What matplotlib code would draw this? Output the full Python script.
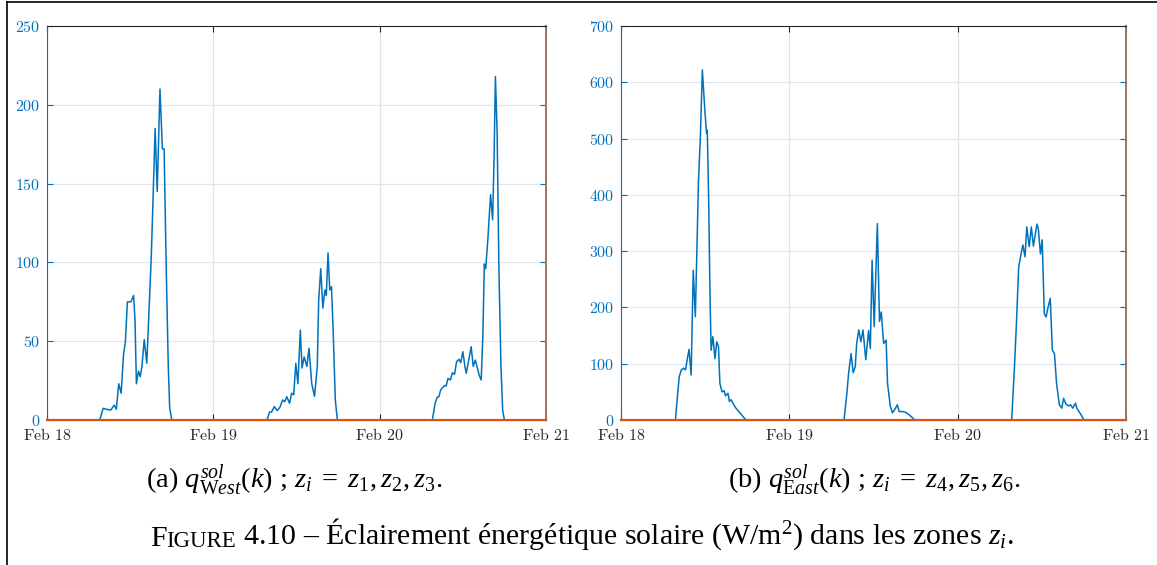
import matplotlib.pyplot as plt
from matplotlib.lines import Line2D

plt.rcParams['mathtext.fontset'] = 'custom'
plt.rcParams['mathtext.rm'] = 'Liberation Serif'
plt.rcParams['mathtext.it'] = 'Liberation Serif:italic'
plt.rcParams['font.family'] = 'Liberation Serif'

# heures depuis Feb 18 00:00 et valeurs (W/m2)
west_h = [0, 7.6, 8.1, 8.6, 9.2, 9.7, 10.0, 10.35, 10.7, 11.05, 11.3, 11.6, 12.1, 12.5, 12.7,
          12.9, 13.2, 13.45, 13.7, 14.03, 14.4, 14.8, 15.05, 15.3, 15.6, 15.9, 16.3, 16.65,
          16.9, 17.2, 17.5, 17.7, 18.0,
          31.75, 32.1, 32.4, 32.8, 33.2, 33.6, 34.0, 34.3, 34.6, 35.0, 35.3, 35.6, 35.9, 36.2,
          36.55, 36.8, 37.1, 37.5, 37.8, 38.2, 38.6, 39.0, 39.2, 39.5, 39.8, 40.1, 40.3, 40.55,
          40.8, 41.05, 41.3, 41.6, 41.9,
          55.6, 56.0, 56.3, 56.55, 56.8, 57.1, 57.4, 57.6, 57.85, 58.2, 58.5, 58.8, 59.1, 59.45,
          59.7, 60.0, 60.3, 60.5, 60.85, 61.2, 61.5, 61.8, 62.1, 62.35, 62.65, 62.9, 63.1, 63.3,
          63.6, 64.0, 64.3, 64.5, 64.7, 64.95, 65.2, 65.5, 65.75, 66.0, 72]
west_q = [0, 0, 7.4, 6.8, 6.3, 9.5, 6.8, 23, 17, 42, 49, 75, 75, 79, 63,
          23, 31, 27.5, 34, 51, 36, 78, 104, 140, 185, 145, 210, 172,
          172, 97, 34, 8, 0,
          0, 5, 5, 8.5, 6, 8, 12.7, 11.6, 14.8, 10.6, 17, 16, 36, 23,
          57, 33, 40, 34, 45.5, 23, 15, 34, 76, 96, 71, 82.5, 79, 106,
          82.5, 84.6, 55, 12.7, 0,
          0, 10.6, 14.4, 14.8, 19, 20.7, 22, 21.6, 26.4, 25.4, 30, 29, 37, 38.5,
          36.4, 43.4, 34, 29.6, 38, 46.5, 34, 38, 33, 28.5, 25.4, 55, 99, 96,
          114, 143, 127, 165, 218, 182, 97, 34, 6, 0, 0]

east_h = [0, 7.76, 8.0, 8.3, 8.6, 8.9, 9.2, 9.5, 9.7, 10.0, 10.3, 10.6, 11.05, 11.3, 11.6,
          11.95, 12.2, 12.3, 12.5, 12.7, 12.85, 13.1, 13.4, 13.65, 13.9, 14.1, 14.4, 14.7,
          14.9, 15.25, 15.45, 15.7, 16.1, 16.4, 16.8, 17.2, 17.6, 17.85,
          31.8, 32.2, 32.45, 32.8, 33.1, 33.4, 33.6, 33.9, 34.2, 34.5, 34.9, 35.3, 35.55, 35.8,
          36.1, 36.55, 36.85, 37.1, 37.45, 37.8, 38.0, 38.4, 38.7, 39.0, 39.4, 39.65, 40.2,
          40.6, 41.1, 41.5, 41.9,
          55.7, 56.1, 56.4, 56.7, 57.05, 57.3, 57.6, 57.85, 58.2, 58.5, 58.8, 59.3, 59.5, 59.8,
          60.05, 60.35, 60.6, 60.9, 61.2, 61.5, 61.8, 62.1, 62.5, 62.85, 63.1, 63.45, 63.8,
          64.1, 64.4, 64.8, 65.0, 65.4, 65.75, 66.0, 72]
east_q = [0, 0, 35.5, 77, 89, 92, 89, 112, 125.5, 80, 266, 183.5, 426, 497, 622,
          551, 509, 515, 391, 213, 124, 148, 109, 139, 130, 65, 50, 52,
          43, 47.5, 33, 36, 26.6, 20.7, 15, 9, 3, 0,
          0, 47, 83, 118, 84, 95, 136, 160, 139, 160, 107, 159, 127, 284,
          166, 349, 175, 192, 136, 142, 65, 24, 13, 18, 27, 15, 15,
          13.6, 9, 4.7, 0,
          0, 95, 178, 272, 296, 311, 290, 343, 308, 343, 309, 348, 340, 295,
          320, 189, 183, 201, 216, 124, 118, 65, 27, 21, 38.5, 28, 25,
          27, 21, 30, 21, 13, 6, 0, 0]

day_ticks = [0, 24, 48, 72]
day_labels = ['Feb 18', 'Feb 19', 'Feb 20', 'Feb 21']
west_yticks = [0, 50, 100, 150, 200, 250]
east_yticks = [0, 100, 200, 300, 400, 500, 600, 700]

blue = '#0072BD'
orange = '#D95319'

fig = plt.figure(figsize=(11.57, 5.65), dpi=100)


def panel(rect, h, q, yticks):
    ax = fig.add_axes(rect)
    ax.plot(h, q, color=blue, lw=1.1)
    ax.plot([day_ticks[0], day_ticks[-1]], [0, 0], color=orange, lw=1.6, clip_on=False, zorder=5)
    ax.set_xlim(day_ticks[0], day_ticks[-1])
    ax.set_ylim(yticks[0], yticks[-1])
    ax.set_xticks(day_ticks)
    ax.set_xticklabels([r'$\mathrm{' + s.replace(' ', r'\ ') + '}$' for s in day_labels],
                       math_fontfamily='cm', fontsize=11.5, color='#262626')
    ax.set_yticks(yticks)
    ax.set_yticklabels(['$%d$' % v for v in yticks], math_fontfamily='cm',
                       fontsize=11.5, color=blue)
    ax.tick_params(axis='x', direction='in', length=4, width=0.8, color='#262626',
                   top=True, pad=6)
    ax.tick_params(axis='y', direction='in', length=4, width=0.8, color=blue,
                   right=True, pad=5)
    ax.grid(axis='y', color='#dbe8f3', lw=0.9)
    ax.grid(axis='x', color='#e2e2e2', lw=0.9)
    ax.set_axisbelow(True)
    for sp in ax.spines.values():
        sp.set_linewidth(0.8)
    ax.spines['left'].set_color(blue)
    ax.spines['right'].set_color('#a5705e')
    ax.spines['right'].set_linewidth(1.4)
    ax.spines['top'].set_color('#262626')
    ax.spines['bottom'].set_color('#262626')
    return ax


panel([47 / 1157, 1 - 420 / 565, 499 / 1157, 394 / 565], west_h, west_q, west_yticks)
panel([621 / 1157, 1 - 420 / 565, 505 / 1157, 394 / 565], east_h, east_q, east_yticks)

# légendes des sous-figures
fig.text(294 / 1157, 1 - 480 / 565,
         r'(a) $q^{sol}_{\mathrm{W}est}(k)$ ; $z_i\;=\;z_1, z_2, z_3$.',
         ha='center', va='center', fontsize=20.5)
fig.text(874 / 1157, 1 - 480 / 565,
         r'(b) $q^{sol}_{\mathrm{E}ast}(k)$ ; $z_i\;=\;z_4, z_5, z_6$.',
         ha='center', va='center', fontsize=20.5)

# légende de la figure (petites capitales pour "Figure"), centrée sur x=582
t1 = fig.text(137 / 1157, 1 - 546 / 565, 'F', ha='left', va='baseline', fontsize=21.5)
ann = plt.annotate('IGURE', xy=(1, 0), xycoords=t1, ha='left', va='bottom', fontsize=16.5,
                   annotation_clip=False)
last = plt.annotate(r' 4.10 – Éclairement énergétique solaire (W/m$^2$) dans les zones $z_i$.',
                    xy=(1, 0), xycoords=ann, ha='left', va='bottom', fontsize=21.5,
                    annotation_clip=False)
fig.canvas.draw()
r = fig.canvas.get_renderer()
x0 = t1.get_window_extent(r).x0
x1 = last.get_window_extent(r).x1
shift = 582 - (x0 + x1) / 2
t1.set_x(t1.get_position()[0] + shift / fig.bbox.width)

# cadre
fig.add_artist(Line2D([7 / 1157, 7 / 1157], [0, 1 - 2 / 565], color='black', lw=1.2))
fig.add_artist(Line2D([7 / 1157, 1], [1 - 2 / 565, 1 - 2 / 565], color='black', lw=1.2))

fig.savefig('out.png', dpi=100)
